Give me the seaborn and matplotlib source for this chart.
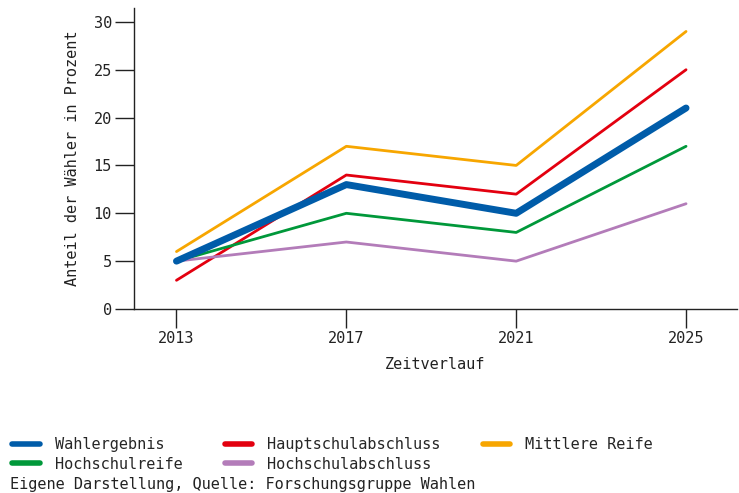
import matplotlib
matplotlib.use("Agg")
import matplotlib.pyplot as plt
import seaborn as sns
import pandas as pd
from matplotlib.lines import Line2D

years = [2013, 2017, 2021, 2025]
wahlergebnis = [5, 13, 10, 21]
hauptschul = [3, 14, 12, 25]
mittlere = [6, 17, 15, 29]
hochschulreife = [5, 10, 8, 17]
hochschulabschluss = [5, 7, 5, 11]

series_names = ["Wahlergebnis", "Hauptschulabschluss", "Mittlere Reife",
                "Hochschulreife", "Hochschulabschluss"]
series_values = [wahlergebnis, hauptschul, mittlere, hochschulreife, hochschulabschluss]
colors = ["#005ca9", "#e3000f", "#f7a600", "#00983a", "#b37cb9"]
widths = [5, 2, 2, 2, 2]

sns.set_style("ticks")
plt.rcParams["font.family"] = ["DejaVu Sans Mono"]

rows = []
for n, vals in zip(series_names, series_values):
    for y, v in zip(years, vals):
        rows.append({"Jahr": y, "Wert": v, "Gruppe": n})
df = pd.DataFrame(rows)

fig = plt.figure(figsize=(7.39, 4.93), dpi=100)
ax = fig.add_axes([134/739, 1-309/493, (737-134)/739, (309-8)/493])

order = [1, 2, 3, 4, 0]
for i in order:
    sub = df[df["Gruppe"] == series_names[i]]
    sns.lineplot(data=sub, x="Jahr", y="Wert", ax=ax, color=colors[i],
                 linewidth=widths[i], legend=False, solid_capstyle="round",
                 zorder=3 if i == 0 else 2)

fs = 11
ax.set_xlim(2012.0, 2026.2)
ax.set_ylim(0, 31.45)
ax.set_xticks(years)
ax.set_yticks([0, 5, 10, 15, 20, 25, 30])
ax.tick_params(axis="both", length=14, width=1, labelsize=fs, color="#222222", labelcolor="#222222", pad=2)
ax.set_xlabel("Zeitverlauf", fontsize=fs, labelpad=8, color="#222222")
ax.set_ylabel("Anteil der Wähler in Prozent", fontsize=fs, labelpad=10, color="#222222")
for s in ["top", "right"]:
    ax.spines[s].set_visible(False)
for s in ["left", "bottom"]:
    ax.spines[s].set_color("#222222")
    ax.spines[s].set_linewidth(1)

leg_order = [0, 3, 1, 4, 2]
handles = [Line2D([0], [0], color=colors[i], linewidth=4, solid_capstyle="round") for i in leg_order]
labels = [series_names[i] for i in leg_order]
fig.legend(handles, labels, ncol=3, loc="upper left", bbox_to_anchor=(12/739, 1-437/493),
           frameon=False, fontsize=fs, handlelength=1.8, handletextpad=1.0,
           columnspacing=2.75, labelspacing=0.3, borderaxespad=0, borderpad=0)
fig.text(10/739, 1-484/493, "Eigene Darstellung, Quelle: Forschungsgruppe Wahlen",
         fontsize=fs, va="center", ha="left", color="#222222")

fig.savefig("out.png", dpi=100)
